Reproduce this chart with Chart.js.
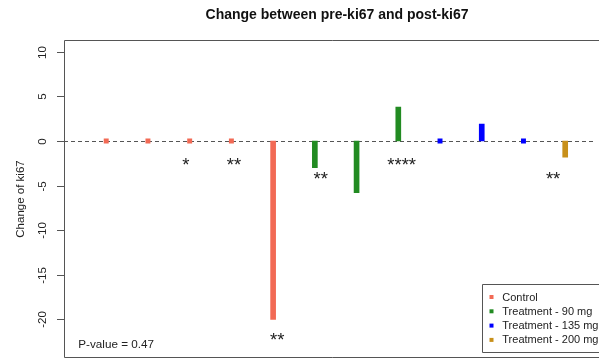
<!DOCTYPE html>
<html>
<head>
<meta charset="utf-8">
<script src="https://cdn.jsdelivr.net/npm/chart.js@4.4.1/dist/chart.umd.min.js"></script>
<style>
html,body{margin:0;padding:0;background:#fff;}
#wrap{width:599px;height:362px;}
</style>
</head>
<body>
<div id="wrap"><canvas id="c" width="599" height="362"></canvas></div>
<script>
// ---- data ----
const xPos = [1,2,3,4,5,6,7,8,9,10,11,12];
const groupOf = [0,0,0,0,0,1,1,1,2,2,2,3];
const values = [0,0,0,0,-20,-3,-5.8,3.8,0,1.9,0,-1.8];
const groupNames = ['Control','Treatment - 90 mg','Treatment - 135 mg','Treatment - 200 mg'];
const groupColors = ['#F26A55','#228B22','#0000FF','#C8901A'];
const starLabels = ['*','**','**','**','****','**'];
const starX = [2.91,4.06,5.1,6.14,8.08,11.71];
const starY = [-2.13,-2.13,-21.75,-3.7,-2.13,-3.7];
const yTicks = [10,5,0,-5,-10,-15,-20];
const titleText = 'Change between pre-ki67 and post-ki67';
const yLabel = 'Change of ki67';
const pText = 'P-value = 0.47';

const FONT = '"Liberation Sans", Arial, Helvetica, sans-serif';
const INK = '#222';
const LINE = '#555';

const barSets = groupNames.map((g, gi) => ({
  type: 'bar',
  label: g,
  data: xPos.map((x, i) => ({x: x, y: values[i], g: groupOf[i]})).filter(d => d.g === gi && d.y !== 0),
  backgroundColor: groupColors[gi],
  borderWidth: 0,
  barThickness: 5,
  grouped: false,
  order: 2
}));
const zeroPts = xPos.map((x, i) => ({x: x, y: values[i], g: groupOf[i]})).filter(d => d.y === 0);
const pointSet = {
  type: 'scatter',
  label: 'zero',
  data: zeroPts,
  pointStyle: 'rect',
  pointRadius: 3.5,
  pointHoverRadius: 3.5,
  borderWidth: 0,
  backgroundColor: zeroPts.map(d => groupColors[d.g]),
  order: 1
};

const decor = {
  id: 'decor',
  beforeDatasetsDraw(chart) {
    const ctx = chart.ctx, a = chart.chartArea, ys = chart.scales.y;
    const y0 = Math.round(ys.getPixelForValue(0)) + 0.5;
    ctx.save();
    ctx.strokeStyle = LINE;
    ctx.lineWidth = 1;
    ctx.setLineDash([4, 3]);
    ctx.beginPath();
    ctx.moveTo(a.left, y0);
    ctx.lineTo(a.right, y0);
    ctx.stroke();
    ctx.restore();
  },
  afterDraw(chart) {
    const ctx = chart.ctx, a = chart.chartArea, xs = chart.scales.x, ys = chart.scales.y;
    ctx.save();
    // box
    ctx.strokeStyle = LINE;
    ctx.lineWidth = 1;
    ctx.beginPath();
    ctx.moveTo(a.right + 20, a.top + 0.5);
    ctx.lineTo(a.left + 0.5, a.top + 0.5);
    ctx.lineTo(a.left + 0.5, a.bottom - 0.5);
    ctx.lineTo(a.right + 20, a.bottom - 0.5);
    ctx.stroke();
    // y ticks
    ctx.fillStyle = INK;
    ctx.font = '11.5px ' + FONT;
    ys.ticks.forEach(t => {
      const py = Math.round(ys.getPixelForValue(t.value)) + 0.5;
      ctx.beginPath();
      ctx.moveTo(a.left - 7, py);
      ctx.lineTo(a.left, py);
      ctx.stroke();
      ctx.save();
      ctx.translate(45.5, py);
      ctx.rotate(-Math.PI / 2);
      ctx.textAlign = 'center';
      ctx.textBaseline = 'alphabetic';
      ctx.fillText(String(t.value), 0, 0);
      ctx.restore();
    });
    // y label
    ctx.save();
    ctx.translate(24, (a.top + a.bottom) / 2);
    ctx.rotate(-Math.PI / 2);
    ctx.textAlign = 'center';
    ctx.font = '11.5px ' + FONT;
    ctx.fillText(yLabel, 0, 0);
    ctx.restore();
    // title
    ctx.font = 'bold 14px ' + FONT;
    ctx.textAlign = 'center';
    ctx.fillStyle = '#111';
    ctx.fillText(titleText, 337, 18.5);
    // stars
    ctx.font = '18.5px ' + FONT;
    ctx.fillStyle = INK;
    starLabels.forEach((s, i) => {
      ctx.fillText(s, xs.getPixelForValue(starX[i]), ys.getPixelForValue(starY[i]) + 10.6);
    });
    // p-value
    ctx.font = '11.7px ' + FONT;
    ctx.textAlign = 'left';
    ctx.fillText(pText, 78.3, 348);
    // legend
    const lx = 482.5, ly = 284.5, lb = 352.5;
    ctx.fillStyle = '#fff';
    ctx.fillRect(lx, ly, 200, lb - ly);
    ctx.strokeStyle = LINE;
    ctx.beginPath();
    ctx.moveTo(lx + 200, ly);
    ctx.lineTo(lx, ly);
    ctx.lineTo(lx, lb);
    ctx.lineTo(lx + 200, lb);
    ctx.stroke();
    ctx.font = '11px ' + FONT;
    ctx.textBaseline = 'middle';
    groupNames.forEach((g, i) => {
      const ry = 297 + i * 14.3;
      ctx.fillStyle = groupColors[i];
      ctx.fillRect(489.5, ry - 2, 4, 4);
      ctx.fillStyle = INK;
      ctx.fillText(g, 502.3, ry + 0.5);
    });
    ctx.restore();
  }
};

new Chart(document.getElementById('c'), {
  data: { datasets: [...barSets, pointSet] },
  options: {
    responsive: false,
    animation: false,
    events: [],
    layout: { padding: { left: 64, top: 40, right: 0, bottom: 4 } },
    plugins: { legend: { display: false }, title: { display: false }, tooltip: { enabled: false } },
    scales: {
      x: { type: 'linear', display: false, offset: false, min: 1 - 42.5/42, max: 1 - 42.5/42 + 535/42 },
      y: { type: 'linear', display: false, min: -24.32, max: 11.32,
           afterBuildTicks: s => { s.ticks = yTicks.map(v => ({ value: v })); } }
    }
  },
  plugins: [decor]
});
</script>
</body>
</html>
